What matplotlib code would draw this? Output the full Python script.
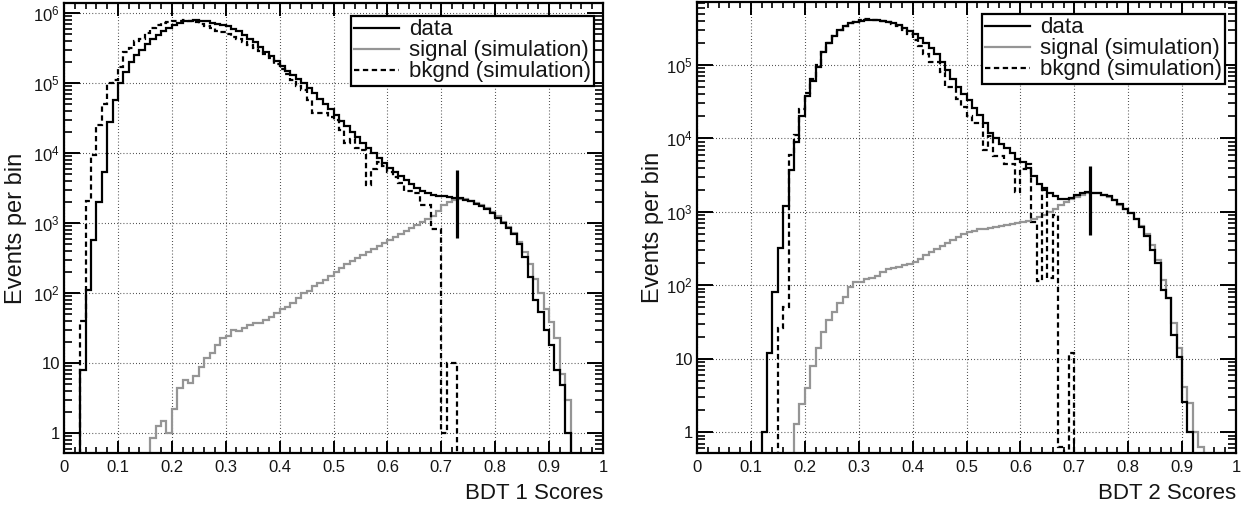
import numpy as np
import matplotlib
matplotlib.use("Agg")
import matplotlib.pyplot as plt
from matplotlib.ticker import FixedLocator, FixedFormatter, MultipleLocator, LogLocator, NullFormatter

plt.rcParams['font.family'] = ['Liberation Sans', 'DejaVu Sans']
plt.rcParams['mathtext.fontset'] = 'custom'
plt.rcParams['mathtext.rm'] = 'Liberation Sans'
plt.rcParams['mathtext.it'] = 'Liberation Sans:italic'
plt.rcParams['mathtext.bf'] = 'Liberation Sans:bold'

# ---------------- data ----------------
bin_edges = np.linspace(0.0, 1.0, 101)

bdt1_data = [0, 0, 0, 8, 110, 570, 2000, 5400, 28000, 57000,
             1.0e5, 1.45e5, 2.0e5, 2.5e5, 3.0e5, 3.6e5, 4.2e5, 4.9e5, 5.5e5, 6.1e5,
             6.7e5, 7.2e5, 7.6e5, 7.8e5, 7.9e5, 7.8e5, 7.6e5, 7.3e5, 7.0e5, 6.8e5,
             6.5e5, 6.0e5, 5.5e5, 4.9e5, 4.3e5, 3.8e5, 3.3e5, 2.8e5, 2.4e5, 2.05e5,
             1.75e5, 1.5e5, 1.3e5, 1.15e5, 1.0e5, 8.5e4, 7.2e4, 6.0e4, 5.0e4, 4.2e4,
             3.5e4, 2.9e4, 2.4e4, 2.0e4, 1.7e4, 1.4e4, 1.2e4, 1.0e4, 8500, 7200,
             6200, 5400, 4700, 4100, 3600, 3200, 2900, 2700, 2550, 2450,
             2400, 2350, 2300, 2250, 2150, 2050, 1900, 1750, 1600, 1400,
             1200, 1000, 850, 700, 500, 330, 170, 80, 53, 30,
             18, 8, 4.9, 1, 0, 0, 0, 0, 0, 0]

bdt1_signal = [0, 0, 0, 0, 0, 0, 0, 0, 0, 0,
               0, 0, 0, 0, 0, 0, 0.85, 1.25, 1.5, 1.0,
               2.2, 4.4, 5.7, 5.2, 6.5, 8.7, 12, 14, 18, 23,
               24, 30, 29, 32, 35, 37, 37, 41, 45, 52,
               59, 63, 72, 85, 100, 108, 125, 140, 155, 175,
               200, 230, 260, 290, 320, 350, 390, 430, 470, 520,
               570, 630, 700, 780, 860, 950, 1030, 1130, 1270, 1500,
               1800, 2000, 2150, 2200, 2180, 2100, 1950, 1800, 1650, 1450,
               1250, 1050, 880, 720, 540, 390, 260, 160, 100, 60,
               39, 23, 7, 3, 0, 0, 0, 0, 0, 0]

bdt1_bkgnd = [0, 0, 0, 40, 2100, 9300, 2.5e4, 5.1e4, 1.0e5, 1.1e5,
              1.7e5, 2.8e5, 3.2e5, 4.0e5, 4.2e5, 5.2e5, 6.1e5, 6.8e5, 7.2e5, 7.4e5,
              7.6e5, 7.8e5, 7.9e5, 7.7e5, 7.4e5, 7.0e5, 6.6e5, 6.1e5, 5.6e5, 5.3e5,
              5.0e5, 4.6e5, 4.2e5, 3.9e5, 3.5e5, 3.2e5, 2.9e5, 2.6e5, 2.3e5, 1.9e5,
              1.6e5, 1.35e5, 1.1e5, 9e4, 8e4, 5.7e4, 3.7e4, 3.7e4, 3.7e4, 3.3e4,
              3.0e4, 2.1e4, 1.4e4, 1.6e4, 1.2e4, 1.1e4, 3500, 5900, 7400, 6500,
              5300, 4500, 3700, 2900, 2900, 2700, 1800, 1800, 820, 820,
              1, 10, 10, 0, 0, 0, 0, 0, 0, 0,
              0, 0, 0, 0, 0, 0, 0, 0, 0, 0,
              0, 0, 0, 0, 0, 0, 0, 0, 0, 0]

bdt2_data = [0, 0, 0, 0, 0, 0, 0, 0, 0, 0,
             0, 0, 1, 12, 80, 320, 1200, 3700, 9000, 2.0e4,
             3.8e4, 6.0e4, 9.5e4, 1.5e5, 2.0e5, 2.5e5, 3.0e5, 3.4e5, 3.7e5, 3.9e5,
             4.0e5, 4.1e5, 4.1e5, 4.05e5, 4.0e5, 3.9e5, 3.7e5, 3.5e5, 3.2e5, 2.9e5,
             2.6e5, 2.3e5, 2.0e5, 1.7e5, 1.4e5, 1.1e5, 8.5e4, 6.5e4, 5.0e4, 4.0e4,
             3.3e4, 2.6e4, 2.1e4, 1.6e4, 1.2e4, 1.0e4, 8500, 7500, 6300, 5300,
             4700, 3900, 3100, 2400, 2100, 1800, 1650, 1480, 1480, 1550,
             1700, 1800, 1850, 1830, 1790, 1720, 1620, 1470, 1260, 1090,
             960, 800, 620, 470, 300, 200, 87, 67, 21, 10.5,
             2.6, 1, 0, 0, 0, 0, 0, 0, 0, 0]

bdt2_signal = [0, 0, 0, 0, 0, 0, 0, 0, 0, 0,
               0, 0, 0, 0, 0, 0, 0, 0, 1.3, 2.4,
               4, 8, 14, 23, 34, 43, 57, 70, 95, 110,
               112, 120, 125, 135, 150, 165, 172, 180, 187, 195,
               210, 230, 255, 280, 310, 345, 380, 420, 460, 500,
               530, 555, 575, 590, 605, 625, 645, 665, 685, 700,
               720, 760, 800, 850, 900, 1000, 1100, 1250, 1380, 1500,
               1600, 1700, 1780, 1820, 1800, 1700, 1600, 1450, 1250, 1080,
               950, 800, 650, 500, 350, 220, 118, 67, 31, 14,
               4.1, 2.5, 1, 0.62, 0, 0, 0, 0, 0, 0]

bdt2_bkgnd = [0, 0, 0, 0, 0, 0, 0, 0, 0, 0,
              0, 0, 0, 0, 0, 26, 50, 6000, 1.1e4, 2.5e4,
              4.2e4, 6.5e4, 1.0e5, 1.5e5, 2.0e5, 2.5e5, 3.0e5, 3.4e5, 3.7e5, 3.9e5,
              4.1e5, 4.2e5, 4.15e5, 4.05e5, 3.95e5, 3.8e5, 3.6e5, 3.35e5, 3.0e5, 2.6e5,
              2.2e5, 1.8e5, 1.4e5, 1.1e5, 1.1e5, 8e4, 5e4, 5e4, 3.4e4, 2.7e4,
              2e4, 1.6e4, 1.6e4, 7000, 1.07e4, 5800, 5800, 4500, 4500, 1860,
              3800, 4500, 730, 113, 2000, 126, 900, 0.63, 0, 12,
              0, 0, 0, 0, 0, 0, 0, 0, 0, 0,
              0, 0, 0, 0, 0, 0, 0, 0, 0, 0,
              0, 0, 0, 0, 0, 0, 0, 0, 0, 0]

# cut markers (score, lower, upper)
bdt1_cut = [0.73, 610, 5700]
bdt2_cut = [0.73, 490, 4150]

legend_labels = ["data", "signal (simulation)", "bkgnd (simulation)"]
x_tick_values = [0, 0.1, 0.2, 0.3, 0.4, 0.5, 0.6, 0.7, 0.8, 0.9, 1]
x_tick_labels = ["0", "0.1", "0.2", "0.3", "0.4", "0.5", "0.6", "0.7", "0.8", "0.9", "1"]
y_tick_values = [1, 10, 1e2, 1e3, 1e4, 1e5, 1e6]
y_tick_labels = ["1", "10", r"$\mathregular{10^{2}}$", r"$\mathregular{10^{3}}$",
                 r"$\mathregular{10^{4}}$", r"$\mathregular{10^{5}}$", r"$\mathregular{10^{6}}$"]

# ---------------- drawing ----------------
GRAY = "#959595"
TXT = "#151515"
fig = plt.figure(figsize=(12.6, 5.08), dpi=100)

panels = [
    dict(rect=[64/1260, 55/508, 539/1260, 450/508], data=bdt1_data, sig=bdt1_signal,
         bkg=bdt1_bkgnd, cut=bdt1_cut, ylim=(0.52, 1.39e6), xlabel="BDT 1 Scores",
         ylab_x=-0.069, leg=(1 - 9/539, 1 - 13/450)),
    dict(rect=[697/1260, 55/508, 539/1260, 451/508], data=bdt2_data, sig=bdt2_signal,
         bkg=bdt2_bkgnd, cut=bdt2_cut, ylim=(0.52, 7.2e5), xlabel="BDT 2 Scores",
         ylab_x=-0.062, leg=(1 - 11/539, 1 - 12/451)),
]

for p in panels:
    ax = fig.add_axes(p['rect'])
    ax.set_yscale('log')
    ax.set_xlim(0, 1)
    ax.set_ylim(*p['ylim'])
    floor = p['ylim'][0] * 0.9

    def prep(v):
        v = np.asarray(v, dtype=float)
        return np.where(v > 0, v, floor)

    h_sig = ax.stairs(prep(p['sig']), bin_edges, baseline=None, color=GRAY, lw=1.6,
                      label=legend_labels[1], zorder=3)
    h_dat = ax.stairs(prep(p['data']), bin_edges, baseline=None, color='black', lw=1.6,
                      label=legend_labels[0], zorder=4)
    h_bkg = ax.stairs(prep(p['bkg']), bin_edges, baseline=None, color='black', lw=1.6,
                      linestyle=(0, (2.4, 1.6)), label=legend_labels[2], zorder=5)

    c = p['cut']
    ax.vlines(c[0], c[1], c[2], color='black', lw=2.3, zorder=6)

    # axes styling
    ax.xaxis.set_major_locator(FixedLocator(x_tick_values))
    ax.xaxis.set_major_formatter(FixedFormatter(x_tick_labels))
    ax.xaxis.set_minor_locator(MultipleLocator(0.02))
    ax.yaxis.set_major_locator(FixedLocator(y_tick_values))
    ax.yaxis.set_major_formatter(FixedFormatter(y_tick_labels))
    ax.yaxis.set_minor_locator(LogLocator(base=10, subs=np.arange(2, 10), numticks=20))
    ax.yaxis.set_minor_formatter(NullFormatter())

    ax.tick_params(axis='both', which='both', direction='in', top=True, right=True,
                   colors='black', labelcolor=TXT, labelsize=12)
    ax.tick_params(axis='x', which='major', length=9, width=1.4, pad=5)
    ax.tick_params(axis='x', which='minor', length=4.5, width=1.2)
    ax.tick_params(axis='y', which='major', length=11.5, width=1.4, pad=3)
    ax.tick_params(axis='y', which='minor', length=5.5, width=1.2)

    for s in ax.spines.values():
        s.set_linewidth(1.6)
        s.set_zorder(7)

    ax.grid(True, which='major', color='black', linestyle=(0, (0.6, 2.2)), lw=0.8)
    ax.set_axisbelow(True)

    ax.set_xlabel(p['xlabel'], fontsize=16, color=TXT, ha='right')
    ax.xaxis.set_label_coords(1.0, -0.067)
    ax.set_ylabel("Events per bin", fontsize=17, color=TXT)
    ax.yaxis.set_label_coords(p['ylab_x'], 0.5)

    leg = ax.legend(handles=[h_dat, h_sig, h_bkg], labels=legend_labels,
                    loc='upper right', bbox_to_anchor=p['leg'], borderaxespad=0,
                    fontsize=16, frameon=True, fancybox=False, framealpha=1,
                    edgecolor='black', handlelength=2.0, handletextpad=0.45,
                    labelspacing=0.0, borderpad=0.15)
    leg.get_frame().set_linewidth(1.6)
    leg.set_zorder(10)
    for t in leg.get_texts():
        t.set_color(TXT)

fig.savefig("out.png", dpi=100)
